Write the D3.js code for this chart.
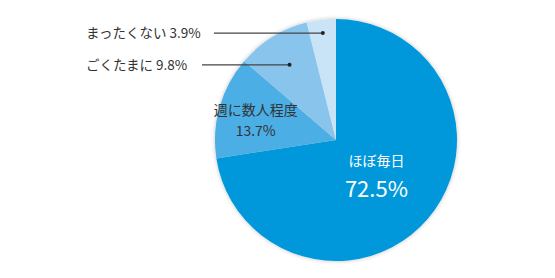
<!DOCTYPE html>
<html>
<head>
<meta charset="utf-8">
<script src="https://cdn.jsdelivr.net/npm/d3@7"></script>
<style>
  body { margin: 0; background: #fff; }
  text { font-family: "Noto Sans CJK JP", "Noto Sans", sans-serif; }
</style>
</head>
<body>
<div id="chart"></div>
<script>
// chart data
const categories = ['ほぼ毎日', '週に数人程度', 'ごくたまに', 'まったくない'];
const values = [72.5, 13.7, 9.8, 3.9];
const colors = ['#0098da', '#4baee4', '#88c4ec', '#cae4f7'];

const width = 555;
const height = 278;
const cx = 336, cy = 140, radius = 121;

const svg = d3.select('#chart')
  .append('svg')
  .attr('width', width)
  .attr('height', height);

// soft shadow round the pie
const defs = svg.append('defs');
const filter = defs.append('filter').attr('id', 'shadow')
  .attr('x', '-20%').attr('y', '-20%').attr('width', '140%').attr('height', '140%');
filter.append('feGaussianBlur').attr('in', 'SourceAlpha').attr('stdDeviation', 2);
filter.append('feComponentTransfer').append('feFuncA').attr('type', 'linear').attr('slope', 0.25);
const merge = filter.append('feMerge');
merge.append('feMergeNode');
merge.append('feMergeNode').attr('in', 'SourceGraphic');

const pie = d3.pie().sort(null).value(d => d);
const arcs = pie(values);
const arc = d3.arc().innerRadius(0).outerRadius(radius);

const g = svg.append('g').attr('transform', `translate(${cx},${cy})`);

g.append('g').attr('filter', 'url(#shadow)')
  .selectAll('path')
  .data(arcs)
  .join('path')
  .attr('d', arc)
  .attr('fill', (d, i) => colors[i]);

// inner labels (name on one line, percent below)
const inner = [
  { i: 0, r: 0.44, color: '#fff', size1: 14, size2: 22, dy1: -9, dy2: 22 },
  { i: 1, r: 0.69, color: '#333', size1: 14, size2: 14, dy1: -2, dy2: 19 }
];
inner.forEach(o => {
  const a = arcs[o.i];
  const pos = d3.arc().innerRadius(radius * o.r).outerRadius(radius * o.r).centroid(a);
  g.append('text')
    .attr('text-anchor', 'middle')
    .attr('fill', o.color)
    .attr('x', pos[0]).attr('y', pos[1] + o.dy1)
    .attr('font-size', o.size1)
    .text(categories[o.i]);
  g.append('text')
    .attr('text-anchor', 'middle')
    .attr('fill', o.color)
    .attr('x', pos[0]).attr('y', pos[1] + o.dy2)
    .attr('font-size', o.size2)
    .text(values[o.i] + '%');
});

// callout labels for the small slices
const callouts = [
  { i: 3, r: 0.89, labelX: 86, lineStart: 214 },
  { i: 2, r: 0.73, labelX: 86, lineStart: 202 }
];
callouts.forEach(o => {
  const a = arcs[o.i];
  const mid = (a.startAngle + a.endAngle) / 2;
  const px = cx + Math.sin(mid) * radius * o.r;
  const py = cy - Math.cos(mid) * radius * o.r;
  svg.append('line')
    .attr('x1', o.lineStart).attr('y1', py)
    .attr('x2', px).attr('y2', py)
    .attr('stroke', '#444').attr('stroke-width', 1.2);
  svg.append('circle')
    .attr('cx', px).attr('cy', py).attr('r', 2)
    .attr('fill', '#222');
  svg.append('text')
    .attr('x', o.labelX).attr('y', py + 5)
    .attr('font-size', 13.5)
    .attr('fill', '#333')
    .text(categories[o.i] + ' ' + values[o.i] + '%');
});
</script>
</body>
</html>
